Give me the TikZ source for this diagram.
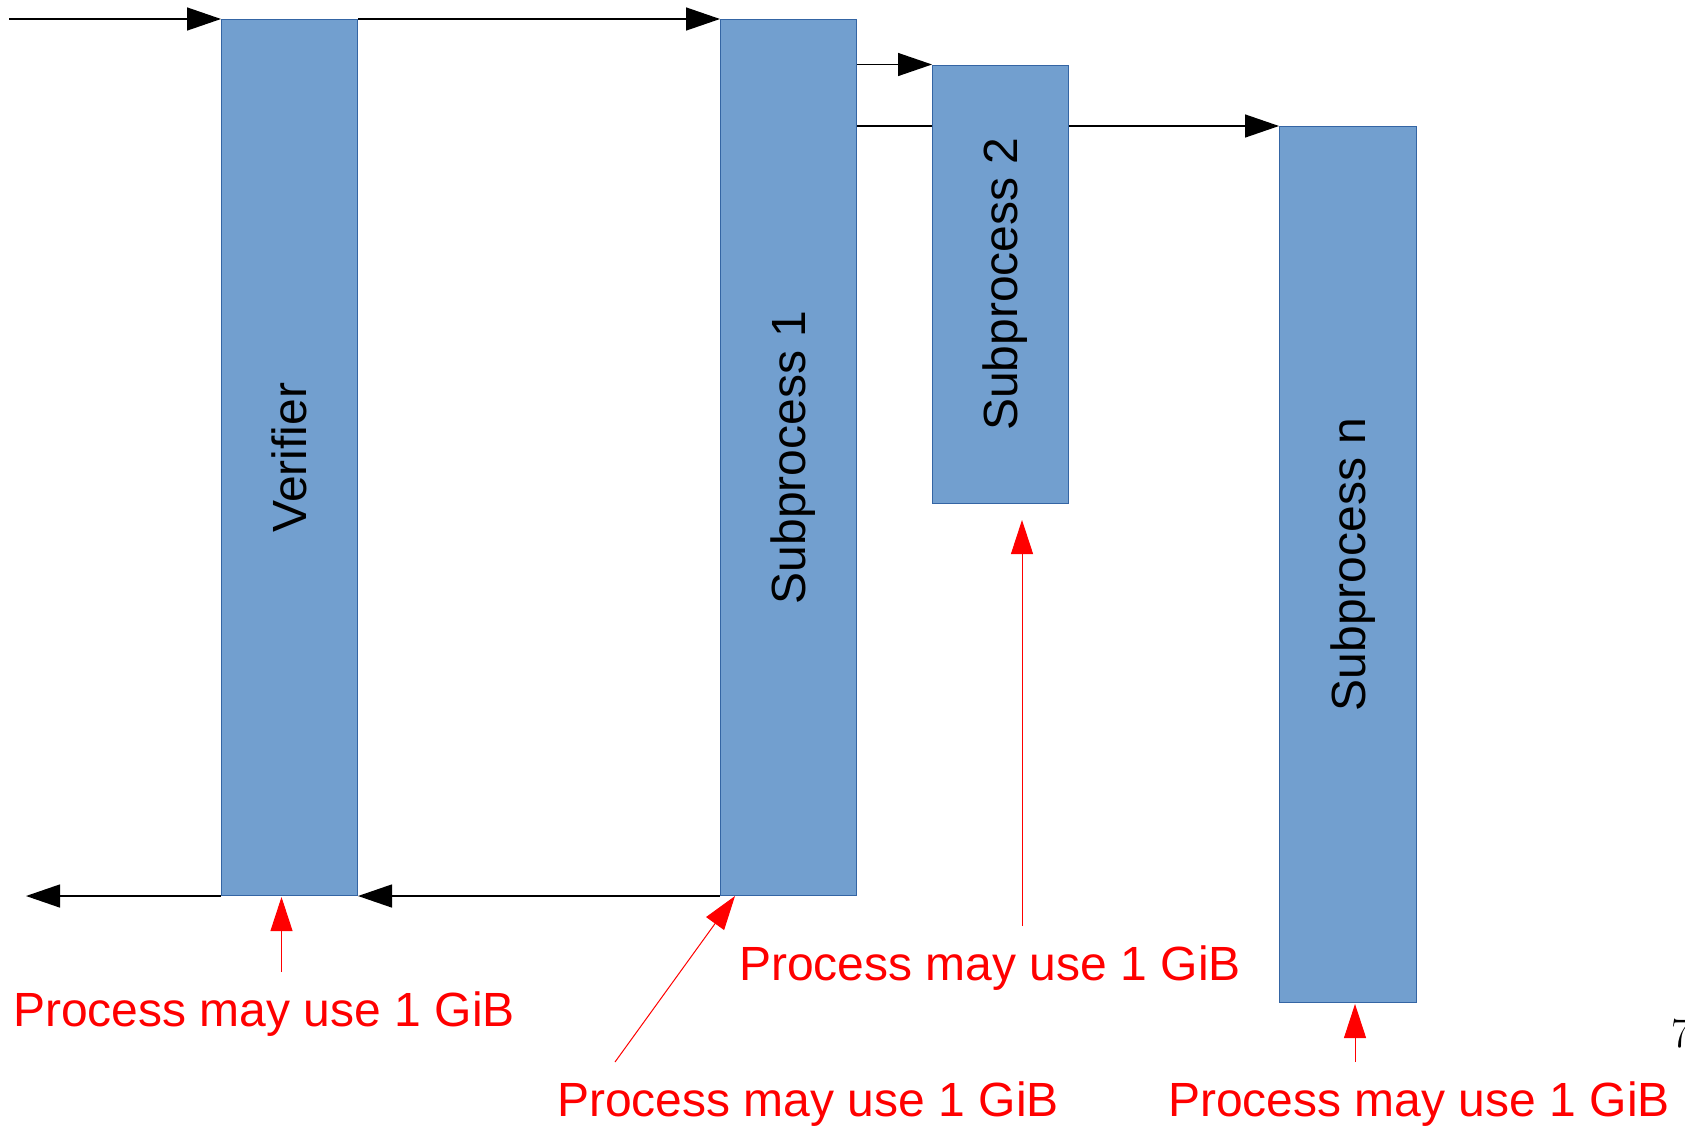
\documentclass[tikz,border=0pt]{standalone}
\usepackage{fontspec}
\newfontfamily\labelfont{Liberation Sans}
\usetikzlibrary{arrows.meta}
\definecolor{procfill}{HTML}{729FCF}
\definecolor{procedge}{HTML}{3465A4}
\begin{document}
\begin{tikzpicture}[x=1pt,y=-1pt,
  procbox/.style={draw=procedge, line width=1pt, fill=procfill, inner sep=0pt, anchor=north west},
  boxlabel/.style={rotate=90, font=\labelfont\fontsize{48}{58}\selectfont,
    text height=34pt, text depth=0pt, inner sep=0pt},
  flow/.style={draw=black, line width=1.4pt, -{Triangle[length=34pt,width=23pt]}},
  note/.style={text=red, font=\labelfont\fontsize{48}{58}\selectfont, inner sep=0pt, anchor=base},
  pointer/.style={draw=red, line width=1pt, -{Triangle[length=34pt,width=22pt]}}
]
\useasboundingbox (0,0) rectangle (1685,1125);

% process boxes
\node[procbox, minimum width=136pt, minimum height=876pt] (ver)  at (221,19) {};
\node[procbox, minimum width=136pt, minimum height=876pt] (sub1) at (720,19) {};
\node[procbox, minimum width=136pt, minimum height=438pt] (sub2) at (932,64.5) {};
\node[procbox, minimum width=137pt, minimum height=876pt] (subn) at (1279,126) {};

\node[boxlabel] (verlbl)  at (ver.center)  {Verifier};
\node[boxlabel] (sub1lbl) at (sub1.center) {Subprocess 1};
\node[boxlabel] (sub2lbl) at (sub2.center) {Subprocess 2};
\node[boxlabel] (subnlbl) at (subn.center) {Subprocess n};

% calls going down the chain
\coordinate (inL) at (9,19);
\draw[flow] (inL |- ver.north west) -- (ver.north west);
\draw[flow] (ver.north east) -- (sub1.north west);
\draw[flow] (sub1.east |- sub2.north) -- (sub2.north west);
\draw[draw=black, line width=1.4pt] (sub1.east |- subn.north) -- (sub2.west |- subn.north);
\draw[flow] (sub2.east |- subn.north) -- (subn.north west);

% results coming back
\coordinate (outL) at (26,895);
\draw[flow] (sub1.south west) -- (ver.south east);
\draw[flow] (ver.south west) -- (ver.south west -| outL);

% memory notes
\node[note] (n1) at (264,1026) {Process may use 1 GiB};
\node[note] (n2) at (808,1116) {Process may use 1 GiB};
\node[note] (n3) at (990,980)  {Process may use 1 GiB};
\node[note] (n4) at (1419,1116) {Process may use 1 GiB};

\coordinate (p1) at (281.5,972);
\coordinate (p1tip) at (281.5,897);
\draw[pointer] (p1) -- (p1tip);
\coordinate (p2) at (615,1062);
\draw[pointer] (p2) -- ([xshift=15pt]sub1.south west);
\coordinate (p3) at (1022,926);
\coordinate (p3tip) at (1022,520);
\draw[pointer] (p3) -- (p3tip);
\coordinate (p4) at (1355,1062);
\coordinate (p4tip) at (1355,1004);
\draw[pointer] (p4) -- (p4tip);

% page number, running off the right edge
\node[font=\fontsize{42}{50}\selectfont, anchor=base west, inner sep=0pt] (pg) at (1671,1047) {7};
\end{tikzpicture}
\end{document}
